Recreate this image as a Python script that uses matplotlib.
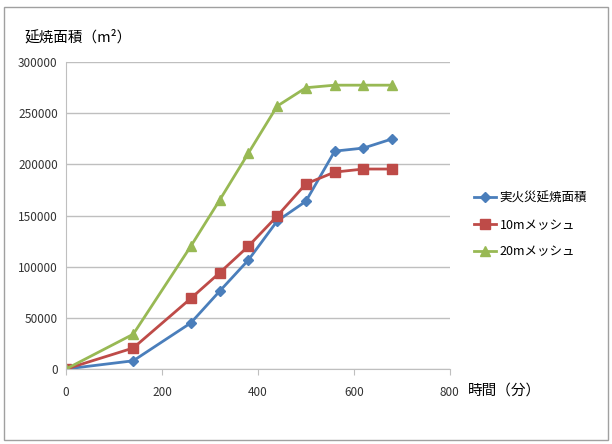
import matplotlib
matplotlib.use("Agg")
import matplotlib.pyplot as plt
from matplotlib.patches import Rectangle

plt.rcParams['font.family'] = ['Noto Sans CJK JP', 'DejaVu Sans']

# elapsed time [min]
minutes = [0, 140, 260, 320, 380, 440, 500, 560, 620, 680]
# burned area [m2]
actual_fire = [0, 8000, 45000, 76000, 106500, 144600, 164000, 213000, 216000, 225000]
mesh_10m = [0, 20500, 69000, 94000, 120000, 149500, 181000, 192500, 195500, 195500]
mesh_20m = [0, 34000, 120000, 165000, 211000, 257000, 275000, 277500, 277500, 277500]

labels = ['実火災延焼面積', '10mメッシュ', '20mメッシュ']
colors = ['#4A7EBB', '#BE4B48', '#98B954']

fig = plt.figure(figsize=(6.12, 4.44), dpi=100)
ax = fig.add_axes([0.108, 0.169, 0.627, 0.691])

ax.plot(minutes, actual_fire, color=colors[0], lw=2, marker='D', ms=5.5, label=labels[0])
ax.plot(minutes, mesh_10m, color=colors[1], lw=2, marker='s', ms=7, label=labels[1])
ax.plot(minutes, mesh_20m, color=colors[2], lw=2, marker='^', ms=7.5, label=labels[2])

ax.set_xlim(0, 800)
ax.set_ylim(0, 300000)
ax.set_xticks(range(0, 801, 200))
ax.set_yticks(range(0, 300001, 50000))
ax.grid(axis='y', color='#BFBFBF', lw=1)
ax.set_axisbelow(True)
for s in ['top', 'right']:
    ax.spines[s].set_visible(False)
for s in ['left', 'bottom']:
    ax.spines[s].set_color('#BFBFBF')
ax.tick_params(axis='y', length=0, labelsize=8.5, pad=6, labelcolor='#333333')
ax.tick_params(axis='x', length=4, color='#BFBFBF', labelsize=8.5, pad=8, labelcolor='#333333')

fig.text(0.04, 0.915, '延焼面積（m²）', fontsize=10.5, va='center')
fig.text(0.765, 0.12, '時間（分）', fontsize=10.5, va='center')

ax.legend(loc='center left', bbox_to_anchor=(1.062, 0.469), frameon=False,
          fontsize=9, handlelength=1.8, handletextpad=0.3, labelspacing=1.1,
          borderpad=0, borderaxespad=0)

fig.patches.append(Rectangle((0.007, 0.008), 0.986, 0.977, transform=fig.transFigure,
                             fill=False, edgecolor='#A0A0A0', lw=1))

fig.savefig('out.png', dpi=100)
